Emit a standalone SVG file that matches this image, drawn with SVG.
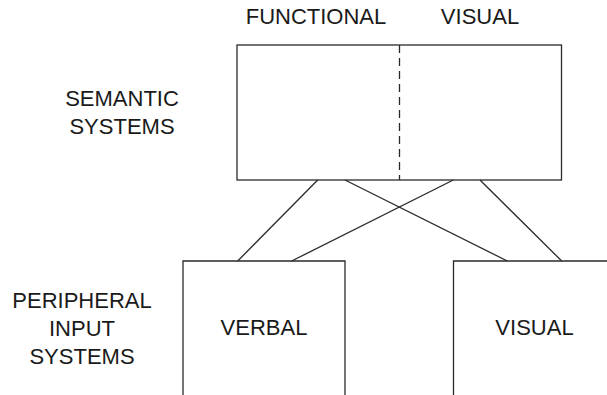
<svg xmlns="http://www.w3.org/2000/svg" width="607" height="395" viewBox="0 0 607 395">
<style>
.ln{fill:none;stroke:#2a2a2a;stroke-width:1.3}
.t{font-family:"Liberation Sans",Arial,sans-serif;font-size:22px;fill:#1a1a1a;text-anchor:middle}
</style>
<rect width="607" height="395" fill="#fff"/>
<g id="labels">
<text class="t" x="316" y="24">FUNCTIONAL</text>
<text class="t" x="480" y="24">VISUAL</text>
<text class="t" x="122" y="106">SEMANTIC</text>
<text class="t" x="122" y="134">SYSTEMS</text>
<text class="t" x="82" y="308">PERIPHERAL</text>
<text class="t" x="82" y="336">INPUT</text>
<text class="t" x="82" y="364">SYSTEMS</text>
</g>
<g id="semantic">
<rect class="ln" x="237" y="45" width="324.5" height="135"/>
<line class="ln" x1="399.5" y1="45" x2="399.5" y2="180" stroke-dasharray="8,5"/>
</g>
<g id="verbal">
<path class="ln" d="M183,395 V261 H345 V395"/>
<text class="t" x="264" y="335">VERBAL</text>
</g>
<g id="visual">
<path class="ln" d="M453.5,395 V261 H607"/>
<text class="t" x="534.5" y="335">VISUAL</text>
</g>
<g id="connectors">
<line class="ln" x1="317.7" y1="180" x2="237.7" y2="261"/>
<line class="ln" x1="345" y1="180" x2="507.3" y2="261"/>
<line class="ln" x1="453.3" y1="180" x2="291.7" y2="261"/>
<line class="ln" x1="480" y1="180" x2="561.7" y2="261"/>
</g>
</svg>
